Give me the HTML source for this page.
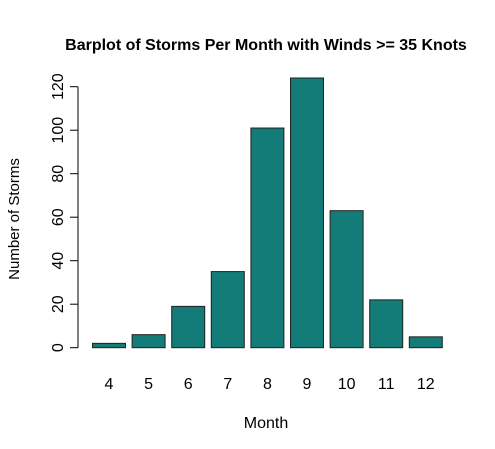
<!DOCTYPE html>
<html><head><meta charset="utf-8"><style>
body{margin:0;background:#fff}
svg{display:block;font-family:"Liberation Sans",Arial,sans-serif}
</style></head><body>
<svg id="chart" width="495" height="449">
<text x="266" y="50" text-anchor="middle" font-size="16" font-weight="bold">Barplot of Storms Per Month with Winds &gt;= 35 Knots</text>
<text x="266" y="428" text-anchor="middle" font-size="16">Month</text>
<text transform="translate(19,219) rotate(-90)" text-anchor="middle" font-size="15">Number of Storms</text>
<g id="bars"></g><g id="yaxis"></g><g id="xlabels"></g>
</svg>
<script>
const months = ["4","5","6","7","8","9","10","11","12"];
const counts = [2, 6, 19, 35, 101, 124, 63, 22, 5];
const yTicks = [0, 20, 40, 60, 80, 100, 120];
const NS = "http://www.w3.org/2000/svg";
const y0 = 347.7, pxPer = (347.7 - 86.7) / 120;
function yScale(v){ return y0 - v * pxPer; }
const barStart = 92.5, barStep = 39.6, barW = 33;
function xScale(i){ return barStart + i * barStep; }
const bars = document.getElementById("bars");
months.forEach((m, i) => {
  const r = document.createElementNS(NS, "rect");
  r.setAttribute("x", xScale(i)); r.setAttribute("width", barW);
  r.setAttribute("y", yScale(counts[i])); r.setAttribute("height", y0 - yScale(counts[i]));
  r.setAttribute("fill", "#137b78"); r.setAttribute("stroke", "#222"); r.setAttribute("stroke-width", "1");
  
  
  bars.appendChild(r);
  const t = document.createElementNS(NS, "text");
  t.setAttribute("x", xScale(i) + barW / 2); t.setAttribute("y", 389);
  t.setAttribute("text-anchor", "middle"); t.setAttribute("font-size", "16");
  t.textContent = m;
  
  
  document.getElementById("xlabels").appendChild(t);
});
const ya = document.getElementById("yaxis");
const axis = document.createElementNS(NS, "line");
axis.setAttribute("x1", 78); axis.setAttribute("x2", 78);
axis.setAttribute("y1", yScale(yTicks[yTicks.length-1])); axis.setAttribute("y2", yScale(yTicks[0]));
axis.setAttribute("stroke", "#000");


ya.appendChild(axis);
yTicks.forEach(v => {
  const l = document.createElementNS(NS, "line");
  l.setAttribute("x1", 70); l.setAttribute("x2", 78);
  l.setAttribute("y1", yScale(v)); l.setAttribute("y2", yScale(v));
  l.setAttribute("stroke", "#000");
  
  
  ya.appendChild(l);
  const t = document.createElementNS(NS, "text");
  t.setAttribute("transform", "translate(63," + yScale(v) + ") rotate(-90)");
  t.setAttribute("text-anchor", "middle"); t.setAttribute("font-size", "16");
  t.textContent = v;
  
  
  ya.appendChild(t);
});
</script>
</body></html>
